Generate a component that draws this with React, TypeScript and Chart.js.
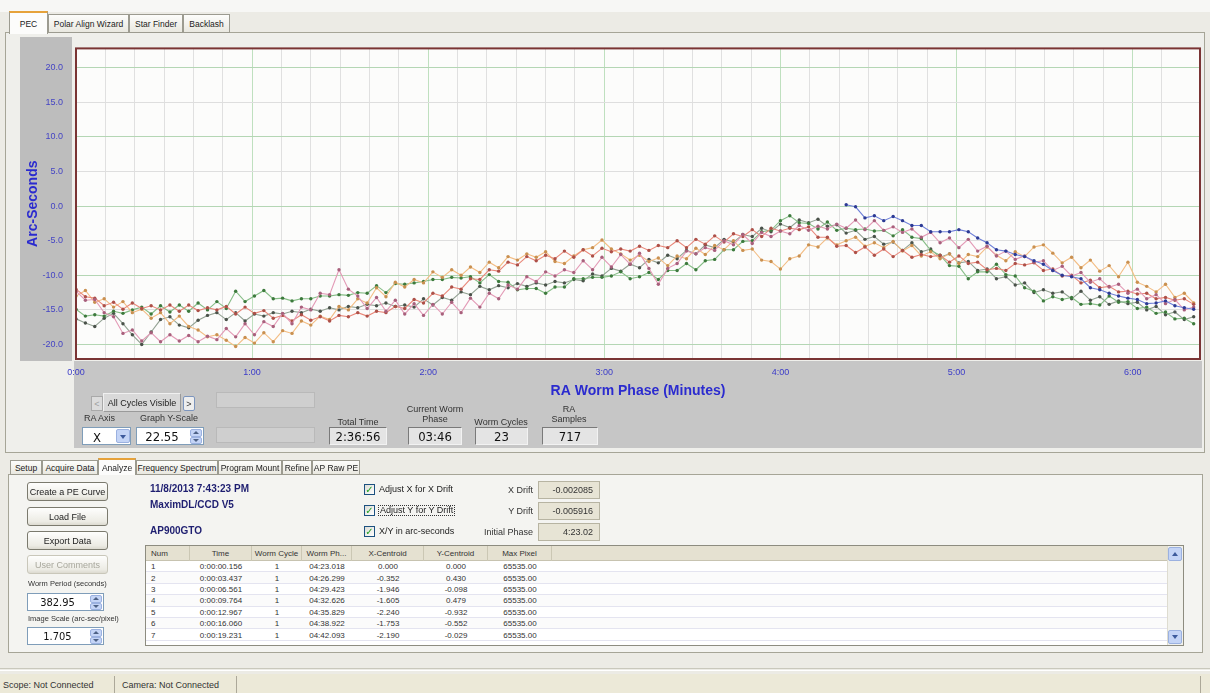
import React, { useEffect, useRef } from "react";
import { Chart, registerables } from "chart.js";
Chart.register(...registerables);

// ---------- chart data ----------
const wormPeriodSeconds = 382.95;
const yAxisMin = -22.1;
const yAxisMax = 22.8;
const minuteLabels = ["0:00", "1:00", "2:00", "3:00", "4:00", "5:00", "6:00"];

const phaseSeconds = [
  0, 3.2, 6.4, 9.6, 12.8, 16, 19.2, 22.4, 25.6, 28.8,
  32, 35.2, 38.4, 41.6, 44.8, 48, 51.2, 54.4, 57.6, 60.8,
  64, 67.2, 70.4, 73.6, 76.8, 80, 83.2, 86.4, 89.6, 92.8,
  96, 99.2, 102.4, 105.6, 108.8, 112, 115.2, 118.4, 121.6, 124.8,
  128, 131.2, 134.4, 137.6, 140.8, 144, 147.2, 150.4, 153.6, 156.8,
  160, 163.2, 166.4, 169.6, 172.8, 176, 179.2, 182.4, 185.6, 188.8,
  192, 195.2, 198.4, 201.6, 204.8, 208, 211.2, 214.4, 217.6, 220.8,
  224, 227.2, 230.4, 233.6, 236.8, 240, 243.2, 246.4, 249.6, 252.8,
  256, 259.2, 262.4, 265.6, 268.8, 272, 275.2, 278.4, 281.6, 284.8,
  288, 291.2, 294.4, 297.6, 300.8, 304, 307.2, 310.4, 313.6, 316.8,
  320, 323.2, 326.4, 329.6, 332.8, 336, 339.2, 342.4, 345.6, 348.8,
  352, 355.2, 358.4, 361.6, 364.8, 368, 371.2, 374.4, 377.6, 380.8,
];

const pinkCycle = [
  -12.3, -13.6, -13.5, -15.4, -16.0, -18.4, -17.9, -19.5, -18.3, -19.6,
  -18.6, -19.5, -18.7, -19.6, -18.8, -19.3, -17.7, -18.9, -17.0, -18.6,
  -16.7, -17.4, -15.5, -17.0, -14.6, -15.0, -12.6, -12.8, -9.2, -12.0,
  -13.0, -14.8, -13.2, -15.2, -13.6, -15.6, -14.1, -15.8, -14.2, -15.6,
  -13.9, -15.4, -13.3, -14.6, -12.6, -13.4, -11.4, -12.0, -10.2, -10.9,
  -9.5, -10.1, -9.2, -9.6, -7.9, -9.2, -7.4, -8.8, -7.0, -8.4,
  -6.8, -9.0, -11.3, -9.0, -8.3, -6.5, -6.9, -6.0, -6.4, -5.0,
  -5.6, -4.1, -5.4, -3.8, -4.4, -3.6, -4.0, -2.8, -3.5, -2.9,
  -3.3, -2.6, -3.2, -2.0, -3.4, -2.1, -3.5, -3.0, -3.8, -3.3,
  -4.5, -3.8, -5.3, -4.6, -6.0, -4.8, -6.5, -5.8, -7.2, -6.5,
  -7.7, -7.2, -8.1, -7.9, -9.3, -8.7, -10.1, -9.6, -11.0, -10.5,
  -11.7, -11.3, -12.6, -12.0, -13.4, -12.8, -14.1, -13.5, -15.0, -14.6,
];

const salmonCycle = [
  -12.0, -13.1, -13.3, -14.4, -13.9, -14.9, -14.0, -14.8, -14.4, -15.0,
  -14.3, -15.2, -14.3, -15.1, -14.7, -15.0, -14.5, -15.6, -14.6, -15.5,
  -15.1, -16.2, -15.8, -16.6, -15.7, -16.5, -16.0, -16.6, -15.8, -16.0,
  -15.4, -15.9, -15.2, -15.4, -14.5, -14.8, -13.5, -14.0, -12.6, -13.0,
  -11.7, -12.0, -10.5, -10.6, -9.2, -9.4, -8.1, -8.5, -7.3, -7.9,
  -7.1, -7.6, -6.5, -7.4, -6.3, -7.2, -6.1, -6.6, -6.2, -6.5,
  -5.8, -6.4, -5.7, -6.0, -5.0, -6.0, -4.8, -5.5, -4.3, -5.2,
  -4.0, -4.4, -3.4, -4.4, -3.2, -3.6, -3.2, -3.4, -3.0, -4.5,
  -4.5, -5.8, -5.7, -6.7, -5.9, -7.1, -6.2, -7.3, -6.4, -7.4,
  -7.0, -7.3, -7.1, -8.1, -7.2, -8.3, -8.1, -9.2, -9.0, -9.3,
  -8.3, -8.5, -8.2, -9.3, -9.1, -10.1, -10.0, -11.1, -10.7, -11.8,
  -11.6, -12.4, -12.3, -12.7, -12.6, -13.4, -13.2, -13.6, -13.4, -14.2,
];

const orangeCycle = [
  -13.0, -12.2, -13.9, -13.4, -14.6, -13.8, -15.4, -14.9, -16.2, -15.4,
  -17.0, -15.9, -17.4, -17.9, -18.9, -18.6, -19.4, -20.3, -19.0, -19.8,
  -18.3, -19.6, -18.0, -18.4, -16.6, -17.2, -15.9, -16.4, -14.5, -15.0,
  -13.4, -14.0, -11.8, -13.1, -11.0, -11.7, -10.6, -11.1, -9.5, -10.3,
  -9.2, -10.0, -8.8, -9.6, -8.1, -8.9, -7.3, -7.8, -6.9, -7.4,
  -6.6, -8.0, -8.3, -7.2, -6.3, -6.0, -4.9, -6.2, -6.9, -7.8,
  -7.1, -8.0, -7.5, -8.6, -7.2, -7.6, -6.1, -7.0, -5.7, -6.3,
  -5.0, -6.4, -6.2, -7.8, -8.0, -9.1, -7.6, -7.2, -5.6, -5.9,
  -4.6, -5.6, -5.0, -4.5, -5.8, -5.3, -6.0, -5.1, -6.5, -5.7,
  -7.2, -6.6, -7.6, -6.9, -8.3, -7.0, -7.3, -5.9, -7.1, -7.9,
  -6.6, -7.3, -5.9, -5.6, -6.8, -8.2, -7.4, -8.9, -7.8, -9.4,
  -8.6, -10.2, -8.1, -11.0, -11.6, -12.4, -11.3, -13.2, -12.6, -14.0,
];

const greenCycle = [
  -14.9, -15.9, -15.7, -15.9, -15.2, -15.5, -15.0, -14.6, -15.6, -14.4,
  -15.3, -14.3, -15.2, -14.0, -15.0, -13.8, -14.8, -12.3, -13.8, -13.0,
  -12.2, -13.4, -13.3, -13.7, -13.4, -13.4, -13.0, -13.0, -12.8, -12.9,
  -12.5, -12.6, -11.5, -12.5, -11.2, -11.3, -11.1, -10.9, -10.6, -10.6,
  -10.3, -10.4, -10.2, -11.1, -9.9, -10.9, -11.0, -12.1, -11.9, -11.9,
  -12.6, -11.7, -11.7, -10.5, -10.5, -10.3, -10.3, -10.1, -9.5, -10.5,
  -10.2, -9.6, -10.6, -9.3, -9.3, -8.3, -9.2, -7.9, -7.7, -6.3,
  -6.3, -5.1, -5.0, -3.7, -3.5, -2.1, -1.4, -2.4, -2.5, -3.3,
  -2.3, -3.5, -3.2, -3.4, -3.3, -3.6, -3.5, -4.3, -3.4, -4.5,
  -4.7, -6.4, -7.1, -8.6, -8.7, -10.5, -9.5, -9.5, -8.4, -9.9,
  -10.1, -11.8, -12.3, -13.7, -13.1, -13.5, -13.2, -14.2, -14.1, -14.3,
  -13.0, -13.9, -13.8, -14.8, -14.6, -15.5, -15.3, -16.3, -16.2, -17.0,
];

const grayCycle = [
  -16.3, -16.9, -17.4, -16.2, -15.5, -17.0, -18.6, -20.0, -18.2, -16.4,
  -16.0, -17.2, -17.6, -16.5, -15.8, -15.4, -16.4, -15.4, -16.6, -15.6,
  -15.9, -15.4, -15.6, -15.2, -15.4, -14.9, -15.2, -14.7, -15.0, -14.5,
  -14.7, -14.2, -14.4, -14.0, -14.5, -14.3, -14.6, -13.4, -14.3, -13.2,
  -13.6, -12.4, -12.8, -11.6, -12.1, -11.5, -11.8, -11.2, -11.6, -11.1,
  -11.4, -10.9, -11.1, -10.6, -10.8, -9.8, -10.1, -9.0, -9.4, -8.4,
  -8.9, -7.7, -8.2, -7.1, -7.6, -6.4, -6.9, -5.6, -6.0, -4.8,
  -5.2, -4.1, -4.4, -3.2, -3.7, -2.6, -3.1, -2.0, -2.4, -1.9,
  -2.9, -2.7, -3.9, -3.5, -4.8, -4.4, -5.5, -5.2, -6.4, -5.3,
  -6.6, -6.2, -7.4, -6.9, -8.2, -8.0, -9.3, -9.1, -10.5, -10.2,
  -11.4, -11.1, -12.5, -12.1, -12.6, -12.4, -13.4, -12.3, -13.6, -13.1,
  -14.2, -13.7, -14.1, -13.9, -15.0, -14.5, -15.7, -15.3, -16.4, -16.0,
];

// the latest (partial) cycle starts at the initial phase 4:23
const blueStartIndex = 82;
const blueCycle = [
  0.2, -0.1, -1.7, -1.4, -2.1, -1.5, -2.1, -2.8, -2.8, -3.7,
  -3.7, -3.7, -3.4, -3.7, -4.6, -5.3, -6.3, -6.5, -7.0, -7.3,
  -7.9, -8.4, -9.3, -10.0, -10.2, -10.5, -11.8, -12.1, -12.6, -13.0,
  -13.3, -13.5, -14.1, -14.0, -13.7, -14.4, -14.7, -14.9,
];

// ---------- table data ----------
const tableHeaders = ["Num", "Time", "Worm Cycle", "Worm Ph...", "X-Centroid", "Y-Centroid", "Max Pixel"];
const tableNum = ["1", "2", "3", "4", "5", "6", "7"];
const tableTime = ["0:00:00.156", "0:00:03.437", "0:00:06.561", "0:00:09.764", "0:00:12.967", "0:00:16.060", "0:00:19.231"];
const tableCycle = ["1", "1", "1", "1", "1", "1", "1"];
const tablePhase = ["04:23.018", "04:26.299", "04:29.423", "04:32.626", "04:35.829", "04:38.922", "04:42.093"];
const tableX = ["0.000", "-0.352", "-1.946", "-1.605", "-2.240", "-1.753", "-2.190"];
const tableY = ["0.000", "0.430", "-0.098", "0.479", "-0.932", "-0.552", "-0.029"];
const tableMax = ["65535.00", "65535.00", "65535.00", "65535.00", "65535.00", "65535.00", "65535.00"];

const FONT = '"Liberation Sans", Arial, sans-serif';
const COND = '"DejaVu Sans Condensed", "Liberation Sans Narrow", "Liberation Sans", sans-serif';

type CSS = React.CSSProperties;
const abs = (x: number, y: number, w: number, h: number, extra: CSS = {}): CSS => ({
  position: "absolute", left: x, top: y, width: w, height: h, boxSizing: "border-box", whiteSpace: "nowrap", ...extra,
});

function T({ x, y, children, style }: { x: number; y: number; children: React.ReactNode; style?: CSS }) {
  return <div style={{ position: "absolute", left: x, top: y, whiteSpace: "nowrap", lineHeight: 1, ...style }}>{children}</div>;
}

function CT({ cx, y, children, style }: { cx: number; y: number; children: React.ReactNode; style?: CSS }) {
  return (
    <div style={{ position: "absolute", left: cx - 60, width: 120, top: y, textAlign: "center", whiteSpace: "nowrap", lineHeight: 1, ...style }}>
      {children}
    </div>
  );
}

function Button({ x, y, w, h, label, disabled }: { x: number; y: number; w: number; h: number; label: string; disabled?: boolean }) {
  return (
    <div style={abs(x, y, w, h, {
      border: "1px solid " + (disabled ? "#c9c7ba" : "#7b7a6e"), borderRadius: 3,
      background: "linear-gradient(#fefefd, #ecebe4 80%, #dcdad0)",
      display: "flex", alignItems: "center", justifyContent: "center",
      color: disabled ? "#a8a79c" : "#222", fontSize: 9, overflow: "hidden",
    })}>{label}</div>
  );
}

function Spin({ x, y, w, h, value, size }: { x: number; y: number; w: number; h: number; value: string; size: number }) {
  return (
    <div style={abs(x, y, w, h, { border: "1px solid #7f9db9", background: "#fff" })}>
      <div style={{ position: "absolute", left: 0, right: 16, top: 0, bottom: 0, display: "flex", alignItems: "center", justifyContent: "center", fontSize: size, fontFamily: COND, color: "#111" }}>{value}</div>
      <div style={abs(w - 15, 1, 12, (h - 3) / 2, { background: "#c4d4f6", border: "1px solid #9bb1e0", borderRadius: 2 })} />
      <div style={abs(w - 15, 1 + (h - 3) / 2, 12, (h - 3) / 2, { background: "#c4d4f6", border: "1px solid #9bb1e0", borderRadius: 2 })} />
      <div style={{ position: "absolute", left: w - 12, top: 3, width: 0, height: 0, borderLeft: "3px solid transparent", borderRight: "3px solid transparent", borderBottom: "3px solid #4d6185" }} />
      <div style={{ position: "absolute", left: w - 12, top: h - 7, width: 0, height: 0, borderLeft: "3px solid transparent", borderRight: "3px solid transparent", borderTop: "3px solid #4d6185" }} />
    </div>
  );
}

function ValueBox({ x, y, w, h, value }: { x: number; y: number; w: number; h: number; value: string }) {
  return (
    <div style={abs(x, y, w, h, {
      background: "#e4e4e4", borderTop: "1px solid #7a7a7a", borderLeft: "1px solid #7a7a7a",
      borderRight: "1px solid #f2f2f2", borderBottom: "1px solid #f2f2f2",
      display: "flex", alignItems: "center", justifyContent: "center", fontFamily: COND, fontSize: 13, color: "#111",
    })}>{value}</div>
  );
}

function Check({ x, y, label, focus }: { x: number; y: number; label: string; focus?: boolean }) {
  return (
    <>
      <div style={abs(x, y, 11, 11, { border: "1px solid #1c5180", background: "linear-gradient(135deg,#dcdcd6,#fff)", display: "flex", alignItems: "center", justifyContent: "center", color: "#21a121", fontSize: 10, fontWeight: "bold", fontFamily: '"DejaVu Sans", sans-serif' })}>✓</div>
      <T x={x + 15} y={y + 1} style={{ fontSize: 9, color: "#222", outline: focus ? "1px dotted #333" : undefined, padding: focus ? "0 1px" : undefined }}>{label}</T>
    </>
  );
}

function Tab({ x, y, w, h, label, active }: { x: number; y: number; w: number; h: number; label: string; active?: boolean }) {
  return (
    <div style={abs(x, y, w, h, {
      border: "1px solid #9c9b90", borderBottom: active ? "none" : "1px solid #9c9b90",
      borderTop: active ? "2px solid #e6a23a" : "1px solid #9c9b90",
      background: active ? "#fcfcfb" : "linear-gradient(#fdfdfb,#e9e8e0)",
      display: "flex", alignItems: "center", justifyContent: "center", fontSize: 8.5, color: "#222", overflow: "hidden",
    })}>{label}</div>
  );
}

function PecChart() {
  const ref = useRef<HTMLCanvasElement>(null);
  useEffect(() => {
    const canvas = ref.current;
    if (!canvas) return;
    const bluePadded = [...new Array(blueStartIndex).fill(null), ...blueCycle];
    const mk = (label: string, data: (number | null)[], line: string, point: string) => ({
      label, data, borderColor: line, backgroundColor: point, pointBackgroundColor: point,
      pointBorderWidth: 0, pointRadius: 1.7, borderWidth: 1.1, tension: 0, fill: false,
    });
    const framePlugin = {
      id: "frame",
      beforeDraw(chart: any) {
        const { ctx, chartArea: a } = chart;
        ctx.save();
        ctx.fillStyle = "#fcfcfb";
        ctx.fillRect(a.left, a.top, a.right - a.left, a.bottom - a.top);
        ctx.restore();
      },
      afterDraw(chart: any) {
        const { ctx, chartArea: a } = chart;
        ctx.save();
        ctx.strokeStyle = "#7a3434";
        ctx.lineWidth = 2;
        ctx.strokeRect(a.left, a.top, a.right - a.left, a.bottom - a.top);
        ctx.restore();
      },
    };
    const chart = new Chart(canvas, {
      type: "line",
      data: {
        labels: phaseSeconds,
        datasets: [
          mk("Cycle 23", bluePadded, "#6f80d8", "#2c3a94"),
          mk("Cycle A", pinkCycle, "#e39ab6", "#a8607c"),
          mk("Cycle B", salmonCycle, "#e9887a", "#ad5048"),
          mk("Cycle C", orangeCycle, "#f3bd84", "#c99050"),
          mk("Cycle D", greenCycle, "#86bd86", "#3d7a3d"),
          mk("Cycle E", grayCycle, "#93a293", "#4a524a"),
        ],
      },
      options: {
        responsive: false,
        animation: false,
        devicePixelRatio: 1,
        events: [],
        layout: { padding: { top: 8, right: 5, left: 0, bottom: 0 } },
        plugins: { legend: { display: false }, tooltip: { enabled: false }, title: { display: false } },
        scales: {
          x: {
            type: "linear",
            min: 0,
            max: wormPeriodSeconds,
            border: { display: false },
            afterBuildTicks: (axis: any) => {
              axis.ticks = axis.ticks.filter((t: any) => Math.abs(t.value / 10 - Math.round(t.value / 10)) < 1e-6);
            },
            afterFit: (s: any) => { s.height = 43; },
            grid: {
              drawTicks: false,
              lineWidth: 1,
              color: (c: any) => (c.tick && Math.round(c.tick.value) % 60 === 0 ? "#bfe0bf" : "#e0e0e0"),
            },
            ticks: {
              stepSize: 10,
              autoSkip: false,
              maxRotation: 0,
              minRotation: 0,
              padding: 8,
              color: "#3a3ac8",
              font: { family: FONT, size: 9 },
              callback: (v: any) => {
                const n = Number(v);
                return Math.round(n) % 60 === 0 ? minuteLabels[Math.round(n) / 60] : "";
              },
            },
            title: {
              display: true,
              text: "RA Worm Phase (Minutes)",
              color: "#2b2bcf",
              font: { family: FONT, size: 14, weight: "bold" },
              padding: { top: 0, bottom: 2 },
            },
          },
          y: {
            min: yAxisMin,
            max: yAxisMax,
            border: { display: false },
            afterBuildTicks: (axis: any) => {
              axis.ticks = axis.ticks.filter((t: any) => Math.abs(t.value / 5 - Math.round(t.value / 5)) < 1e-6);
            },
            afterFit: (s: any) => { s.width = 56; },
            grid: {
              drawTicks: false,
              lineWidth: 1,
              color: (c: any) => (c.tick && Math.round(c.tick.value) % 10 === 0 ? "#b4d6b4" : "#dedede"),
            },
            ticks: {
              stepSize: 5,
              padding: 13,
              color: "#4444c4",
              font: { family: FONT, size: 9 },
              callback: (v: any) => Number(v).toFixed(1),
            },
            title: {
              display: true,
              text: "Arc-Seconds",
              color: "#2b2bcf",
              font: { family: FONT, size: 14, weight: "bold" },
              padding: { top: 5, bottom: 0 },
            },
          },
        },
      },
      plugins: [framePlugin],
    } as any);
    return () => chart.destroy();
  }, []);
  return <canvas ref={ref} width={1185} height={372} style={{ position: "absolute", left: 20, top: 30, width: 1185, height: 372 }} />;
}

const colEdges = [145, 190, 252, 302, 352, 424, 488, 552];

export default function App() {
  const rowTop = 561;
  const rowH = 11.4;
  const columns = [tableNum, tableTime, tableCycle, tablePhase, tableX, tableY, tableMax];
  return (
    <div style={{ position: "absolute", left: 0, top: 0, width: 1210, height: 693, overflow: "hidden", background: "#ecebe5", fontFamily: FONT, color: "#222" }}>
      {/* top strip */}
      <div style={abs(0, 0, 1210, 12, { background: "#f7f7f5" })} />
      {/* PEC page frame */}
      <div style={abs(5, 32, 1200, 421, { border: "1px solid #a6a597", background: "#efefeb" })} />
      <Tab x={48} y={14} w={81} h={19} label="Polar Align Wizard" />
      <Tab x={129} y={14} w={54} h={19} label="Star Finder" />
      <Tab x={183} y={14} w={47} h={19} label="Backlash" />
      <Tab x={9} y={11} w={39} h={23} label="PEC" active />

      {/* gray chart panels */}
      <div style={abs(20, 37, 52, 324, { background: "#bdbdbd" })} />
      <div style={abs(74, 361, 1128, 87, { background: "#c6c6c6" })} />

      <PecChart />

      {/* controls in gray strip */}
      <div style={abs(91, 396, 12, 15, { background: "#dcdcdc", border: "1px solid #a9a9a9", display: "flex", alignItems: "center", justifyContent: "center", fontSize: 9, color: "#a0a0a0" })}>&lt;</div>
      <div style={abs(103, 393, 78, 19, { background: "#d9d9d9", borderTop: "1px solid #f0f0f0", borderLeft: "1px solid #f0f0f0", borderRight: "1px solid #9a9a9a", borderBottom: "1px solid #9a9a9a", display: "flex", alignItems: "center", justifyContent: "center", fontSize: 9, color: "#222" })}>All Cycles Visible</div>
      <div style={abs(183, 396, 12, 15, { background: "#eeeeee", border: "1px solid #7c95bd", borderRadius: 2, display: "flex", alignItems: "center", justifyContent: "center", fontSize: 9, color: "#333" })}>&gt;</div>

      <T x={84} y={414} style={{ fontSize: 9, color: "#333" }}>RA Axis</T>
      <T x={140} y={414} style={{ fontSize: 9, color: "#333" }}>Graph Y-Scale</T>
      <div style={abs(82, 427, 49, 18, { background: "#fff", border: "1px solid #7f9db9" })}>
        <div style={{ position: "absolute", left: 10, top: 2, fontFamily: COND, fontSize: 13, color: "#111" }}>X</div>
        <div style={abs(33, 1, 14, 14, { background: "#c4d4f6", border: "1px solid #9bb1e0", borderRadius: 2 })} />
        <div style={{ position: "absolute", left: 37, top: 7, width: 0, height: 0, borderLeft: "3px solid transparent", borderRight: "3px solid transparent", borderTop: "4px solid #3d5a9c" }} />
      </div>
      <Spin x={136} y={427} w={68} h={18} value="22.55" size={13} />

      <div style={abs(216, 392, 99, 16, { background: "#cfcfcf", border: "1px solid #b9b9b9" })} />
      <div style={abs(216, 427, 99, 16, { background: "#cfcfcf", border: "1px solid #b9b9b9" })} />

      <CT cx={358} y={418} style={{ fontSize: 9, color: "#333" }}>Total Time</CT>
      <ValueBox x={329} y={427} w={58} h={18} value="2:36:56" />
      <CT cx={435} y={405} style={{ fontSize: 9, color: "#333" }}>Current Worm</CT>
      <CT cx={435} y={415} style={{ fontSize: 9, color: "#333" }}>Phase</CT>
      <ValueBox x={408} y={427} w={54} h={18} value="03:46" />
      <CT cx={501} y={418} style={{ fontSize: 9, color: "#333" }}>Worm Cycles</CT>
      <ValueBox x={475} y={427} w={53} h={18} value="23" />
      <CT cx={569} y={405} style={{ fontSize: 9, color: "#333" }}>RA</CT>
      <CT cx={569} y={415} style={{ fontSize: 9, color: "#333" }}>Samples</CT>
      <ValueBox x={542} y={427} w={56} h={18} value="717" />

      {/* lower tab control */}
      <div style={abs(8, 474, 1195, 179, { border: "1px solid #a6a597", background: "#f4f4f1" })} />
      <Tab x={10} y={460} w={32} h={15} label="Setup" />
      <Tab x={42} y={460} w={56} h={15} label="Acquire Data" />
      <Tab x={136} y={460} w={82} h={15} label="Frequency Spectrum" />
      <Tab x={218} y={460} w={64} h={15} label="Program Mount" />
      <Tab x={282} y={460} w={30} h={15} label="Refine" />
      <Tab x={312} y={460} w={48} h={15} label="AP Raw PE" />
      <Tab x={98} y={458} w={38} h={17} label="Analyze" active />

      <Button x={27} y={482} w={81} h={19} label="Create a PE Curve" />
      <Button x={27} y={507} w={81} h={19} label="Load File" />
      <Button x={27} y={531} w={81} h={19} label="Export Data" />
      <Button x={27} y={555} w={81} h={19} label="User Comments" disabled />
      <T x={28} y={580} style={{ fontSize: 7.5, color: "#333" }}>Worm Period (seconds)</T>
      <Spin x={27} y={593} w={77} h={18} value="382.95" size={11} />
      <T x={28} y={615} style={{ fontSize: 7.5, color: "#333" }}>Image Scale (arc-sec/pixel)</T>
      <Spin x={27} y={627} w={77} h={18} value="1.705" size={11} />

      <T x={150} y={484} style={{ fontSize: 10, fontWeight: "bold", color: "#1e1e70" }}>11/8/2013 7:43:23 PM</T>
      <T x={150} y={500} style={{ fontSize: 10, fontWeight: "bold", color: "#1e1e70" }}>MaximDL/CCD V5</T>
      <T x={150} y={526} style={{ fontSize: 10, fontWeight: "bold", color: "#1e1e70" }}>AP900GTO</T>

      <Check x={364} y={484} label="Adjust X for X Drift" />
      <Check x={364} y={505} label="Adjust Y for Y Drift" focus />
      <Check x={364} y={526} label="X/Y in arc-seconds" />

      <T x={500} y={486} style={{ fontSize: 9, width: 33, textAlign: "right", color: "#333" }}>X Drift</T>
      <T x={500} y={507} style={{ fontSize: 9, width: 33, textAlign: "right", color: "#333" }}>Y Drift</T>
      <T x={470} y={528} style={{ fontSize: 9, width: 63, textAlign: "right", color: "#333" }}>Initial Phase</T>
      {[["-0.002085", 481], ["-0.005916", 502], ["4:23.02", 523]].map(([v, y]) => (
        <div key={v as string} style={abs(538, y as number, 62, 18, { background: "#e7e4d5", border: "1px solid #b7b4a2", display: "flex", alignItems: "center", justifyContent: "flex-end", paddingRight: 6, fontSize: 9, color: "#333" })}>{v}</div>
      ))}

      {/* data table */}
      <div style={abs(145, 545, 1039, 101, { background: "#fff", border: "1px solid #8d8c80" })} />
      <div style={abs(146, 546, 1021, 15, { background: "#e5e1d1", borderBottom: "1px solid #c7c3b0" })} />
      {tableHeaders.map((h, i) => (
        <div key={h} style={abs(colEdges[i], 546, colEdges[i + 1] - colEdges[i], 15, {
          borderRight: "1px solid #cbc7b4", display: "flex", alignItems: "center",
          justifyContent: i === 0 ? "flex-start" : "center", paddingLeft: i === 0 ? 6 : 0, fontSize: 8, color: "#333",
        })}>{h}</div>
      ))}
      {tableNum.map((_, r) => (
        <div key={"row" + r} style={abs(146, rowTop + r * rowH, 1021, rowH, { borderBottom: "1px solid #e4e4f0", background: r % 2 ? "#fbfbfb" : "#ffffff" })} />
      ))}
      {columns.map((col, ci) =>
        col.map((val, r) => (
          <div key={ci + "-" + r} style={abs(colEdges[ci], rowTop + r * rowH, colEdges[ci + 1] - colEdges[ci], rowH, {
            display: "flex", alignItems: "center", justifyContent: ci === 0 ? "flex-start" : "center",
            paddingLeft: ci === 0 ? 6 : 0, fontSize: 8, color: "#333", fontFamily: FONT,
          })}>{val}</div>
        ))
      )}
      {/* scrollbar */}
      <div style={abs(1167, 546, 16, 99, { background: "#f1f1ec", borderLeft: "1px solid #dedcd0" })} />
      <div style={abs(1168, 547, 14, 14, { background: "#c4d4f6", border: "1px solid #9bb1e0", borderRadius: 2 })} />
      <div style={{ position: "absolute", left: 1172, top: 552, width: 0, height: 0, borderLeft: "3px solid transparent", borderRight: "3px solid transparent", borderBottom: "4px solid #3d5a9c" }} />
      <div style={abs(1168, 630, 14, 14, { background: "#c4d4f6", border: "1px solid #9bb1e0", borderRadius: 2 })} />
      <div style={{ position: "absolute", left: 1172, top: 635, width: 0, height: 0, borderLeft: "3px solid transparent", borderRight: "3px solid transparent", borderTop: "4px solid #3d5a9c" }} />

      {/* status bar */}
      <div style={abs(0, 668, 1210, 3, { borderTop: "1px solid #c9c8bc", borderBottom: "1px solid #fff" })} />
      <div style={abs(0, 674, 1210, 19, { background: "#ece9d8" })} />
      <div style={abs(114, 676, 1, 17, { background: "#aca899" })} />
      <div style={abs(236, 676, 1, 17, { background: "#aca899" })} />
      <div style={abs(1200, 676, 1, 17, { background: "#aca899" })} />
      <T x={3} y={681} style={{ fontSize: 9, color: "#333" }}>Scope: Not Connected</T>
      <T x={122} y={681} style={{ fontSize: 9, color: "#333" }}>Camera: Not Connected</T>
    </div>
  );
}
